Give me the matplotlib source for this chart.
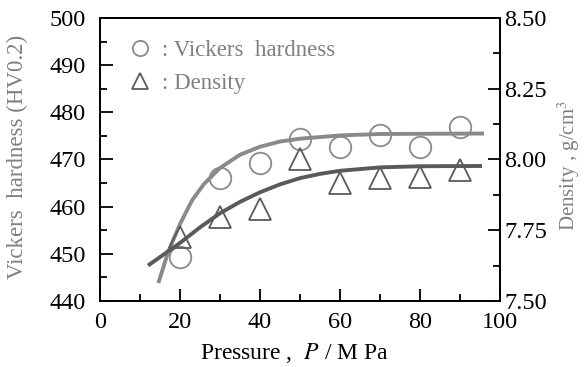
import matplotlib
matplotlib.use("Agg")
import matplotlib.pyplot as plt
from matplotlib.lines import Line2D

plt.rcParams['font.family'] = ['Liberation Serif', 'DejaVu Serif']
plt.rcParams['mathtext.fontset'] = 'stix'

# measured points
pressure = [20, 30, 40, 50, 60, 70, 80, 90]
hardness = [449.3, 466.1, 469.3, 474.4, 472.7, 475.1, 472.6, 476.8]
density = [7.727, 7.798, 7.824, 8.00, 7.916, 7.934, 7.939, 7.963]

# fitted curves
fit_p_h = [14.6, 17, 20, 23, 26, 30, 35, 40, 45, 50, 60, 70, 96]
fit_h = [443.8, 450.3, 456.3, 461.3, 464.8, 468.2, 471.0, 472.7, 473.8, 474.4, 475.1, 475.4, 475.5]
fit_p_d = [12, 15, 20, 25, 30, 35, 40, 45, 50, 55, 60, 70, 80, 95.5]
fit_d = [7.625, 7.655, 7.705, 7.76, 7.81, 7.85, 7.884, 7.912, 7.934, 7.949, 7.96, 7.972, 7.976, 7.977]

c_h = '#8a8a8a'
c_d = '#5a5a5a'
fs = 17.5

fig = plt.figure(figsize=(5.84, 3.67), dpi=100)
ax = fig.add_axes([0.1712, 0.180, 0.685, 0.771])
ax2 = ax.twinx()

ax.plot(fit_p_h, fit_h, color=c_h, lw=2.8, solid_capstyle='butt', zorder=2)
ax2.plot(fit_p_d, fit_d, color=c_d, lw=2.8, solid_capstyle='butt', zorder=2)
ax.plot(pressure, hardness, 'o', ms=15.5, mfc='none', mec=c_h, mew=1.3, zorder=3)
ax2.plot(pressure, density, '^', ms=15.5, mfc='none', mec=c_d, mew=1.3, zorder=3)

ax.set_xlim(0, 100)
ax.set_ylim(440, 500)
ax2.set_ylim(7.5, 8.5)
ax.set_xticks([0, 20, 40, 60, 80, 100])
ax.set_xticks(range(10, 100, 20), minor=True)
ax.set_yticks(range(440, 501, 10))
ax.set_yticks(range(445, 500, 10), minor=True)
ax2.set_yticks([7.5, 7.75, 8.0, 8.25, 8.5])
ax2.set_yticklabels(['7.50', '7.75', '8.00', '8.25', '8.50'])
ax2.set_yticks([7.625, 7.875, 8.125, 8.375], minor=True)

for a in (ax, ax2):
    a.tick_params(which='major', direction='in', length=9, width=1.3, labelsize=fs)
    a.tick_params(which='minor', direction='in', length=5, width=1.3)
    for s in a.spines.values():
        s.set_linewidth(1.3)
ax.tick_params(axis='x', which='both', top=False, pad=8)
ax.tick_params(axis='y', pad=10)
ax2.tick_params(axis='y', pad=3)

ax.set_xlabel('Pressure ,  $\\it{P}$ / M Pa', fontsize=17)
ax.xaxis.set_label_coords(0.485, -0.14)
ax.set_ylabel('Vickers  hardness (HV0.2)', fontsize=16.5, color='#808080')
ax.yaxis.set_label_coords(-0.18, 0.51)
ax2.set_ylabel('Density , g/cm$^3$', fontsize=15, color='#808080')
ax2.yaxis.set_label_coords(1.14, 0.48)

handles = [Line2D([], [], ls='none', marker='o', ms=11, mfc='none', mec=c_h, mew=1.3),
           Line2D([], [], ls='none', marker='^', ms=12, mfc='none', mec=c_d, mew=1.3)]
leg = ax.legend(handles, [': Vickers  hardness', ': Density'], loc='upper left',
                bbox_to_anchor=(0.02, 0.995), frameon=False, fontsize=16.5,
                handlelength=1.0, handletextpad=0.45, labelspacing=0.5)
for t in leg.get_texts():
    t.set_color('#808080')

fig.savefig('out.png', dpi=100)
